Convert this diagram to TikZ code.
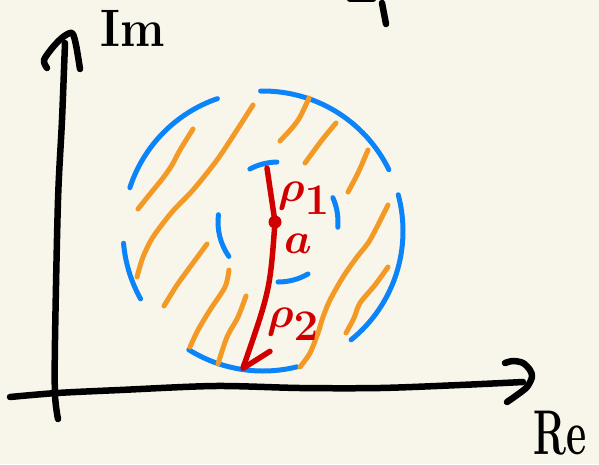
\documentclass[tikz,border=0pt]{standalone}
\usepackage{amsmath,amssymb}
\usepackage{tikz}
\usetikzlibrary{arrows.meta}
\usepackage{xcolor}
\definecolor{paper}{HTML}{F8F6EA}
\definecolor{rimblue}{HTML}{0A84F8}
\definecolor{hatchorange}{HTML}{F39A26}
\definecolor{pinred}{HTML}{D00000}

\begin{document}
\begin{tikzpicture}[x=0.02cm,y=-0.02cm,line cap=round,line join=round,
  ink/.style={black,line width=0.13cm},
  rim/.style={rimblue,line width=0.1cm},
  hatch/.style={hatchorange,line width=0.1cm},
  pin/.style={pinred,line width=0.11cm},
  lbl/.style={pinred,inner sep=0pt,font=\fontsize{38}{38}\selectfont\boldmath}]
\fill[paper,use as bounding box] (0,0) rectangle (599,464);
% axes
\draw[ink] plot[smooth] coordinates {(58,419) (55,395) (55,340) (58,200) (62,120) (65,43)};
\draw[ink] plot[smooth] coordinates {(47,68) (44,60) (53,47) (63,37) (72,33) (76,45) (80,69)};
\draw[ink] plot[smooth] coordinates {(10,397) (57,393) (120,390) (215,386) (300,388) (380,388) (460,385) (523,382)};
\draw[ink] plot[smooth] coordinates {(505,363) (513,361) (523,363) (530,370) (532,377) (527,387) (517,395) (507,402)};
\draw[ink] (350,-1) -- (373,-1);
\draw[ink] (382,3) -- (386,24);
\node[font=\fontsize{30}{30}\selectfont\bfseries,anchor=base west,inner sep=0pt,xscale=0.9] (imlabel) at (100,46) {Im};
\node[font=\fontsize{36}{36}\selectfont\bfseries,anchor=base west,inner sep=0pt,xscale=0.62] (relabel) at (533,454) {Re};
% annulus
\coordinate (oc) at (263,231);
\coordinate (ic) at (278,222);
\foreach \s/\e in {-109/-162,-26/-91,51/-15,122/76,-185/-209}
  \draw[rim] (oc) ++(\s:140) arc[start angle=\s,end angle=\e,radius=140];
\foreach \s/\e in {-91/-118,5/-24,-173/-215,90/60}
  \draw[rim] (ic) ++(\s:60) arc[start angle=\s,end angle=\e,radius=60];
% hatching
\draw[hatch] plot[smooth] coordinates {(138,209) (150,194) (163,178) (172,165) (180,150) (193,129)};
\draw[hatch] plot[smooth] coordinates {(253,105) (237,130) (217,160) (193,190) (172,212) (153,237) (143,257) (137,277)};
\draw[hatch] plot[smooth] coordinates {(207,244) (193,263) (177,285) (164,306)};
\draw[hatch] plot[smooth] coordinates {(229,270) (225,287) (210,310) (198,330) (190,347)};
\draw[hatch] plot[smooth] coordinates {(246,296) (238,317) (227,337) (218,364)};
\draw[hatch] plot[smooth] coordinates {(309,98) (300,117) (292,128) (280,141)};
\draw[hatch] plot[smooth] coordinates {(336,123) (322,140) (305,163)};
\draw[hatch] plot[smooth] coordinates {(368,150) (358,173) (348,192)};
\draw[hatch] plot[smooth] coordinates {(388,205) (370,240) (357,257) (343,277) (330,300) (323,317) (318,333) (310,353) (300,367)};
\draw[hatch] plot[smooth] coordinates {(388,267) (375,285) (360,303) (354,318) (346,333)};
% radii
\coordinate (a) at (275,222);
\coordinate (r1) at (267,168);
\coordinate (r2) at (242,371);
\draw[pin] (r1) -- (a);
\draw[pin,-{Straight Barb[harpoon,round,length=5mm,width=8mm]}] (a) .. controls (270,290) .. (r2);
\fill[pinred] (a) circle (6.5);
\node[lbl] (rho1) at (304,198) {$\rho_1$};
\node[lbl] (alabel) at (298,244) {$a$};
\node[lbl] (rho2) at (293,324) {$\rho_2$};
\end{tikzpicture}
\end{document}
